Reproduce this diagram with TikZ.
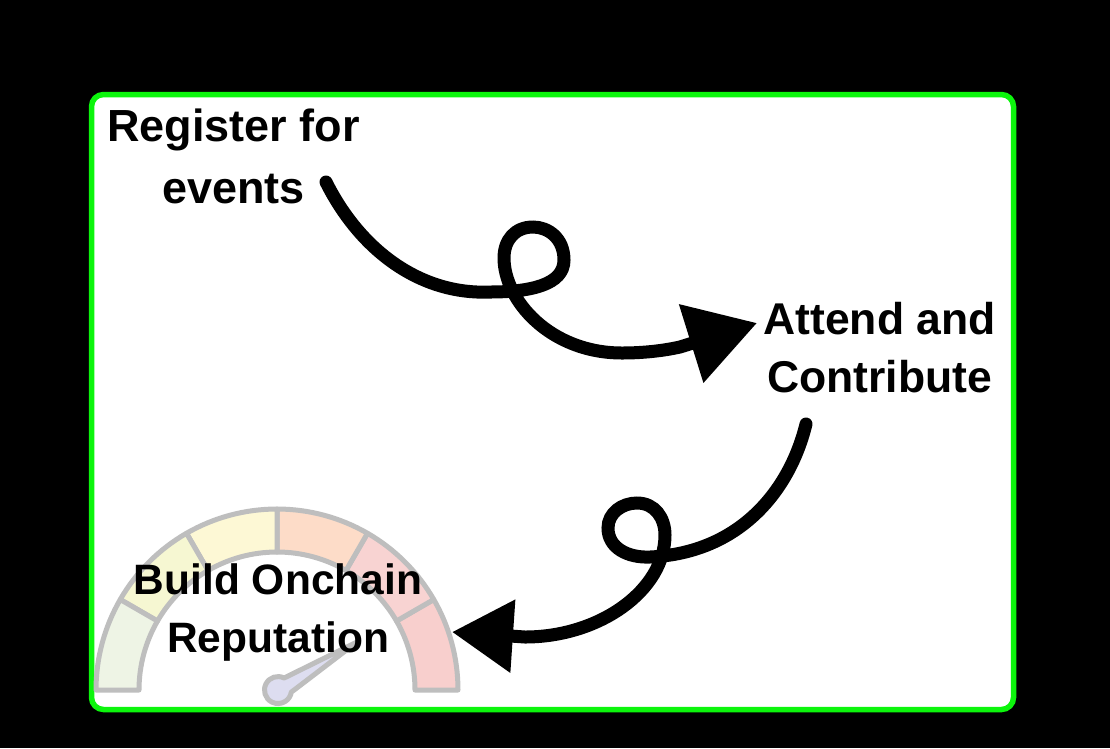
\documentclass[tikz,border=0pt]{standalone}
\usepackage{fontspec}
\setmainfont{Liberation Sans}
\usetikzlibrary{arrows.meta}
\definecolor{framegreen}{HTML}{0CF50C}
\definecolor{gaugeedge}{HTML}{BEBEBE}
\definecolor{bandA}{HTML}{F8CFCD}
\definecolor{bandB}{HTML}{F8D3D2}
\definecolor{bandC}{HTML}{FDDCC8}
\definecolor{bandD}{HTML}{FDF8D5}
\definecolor{bandE}{HTML}{F6F7D2}
\definecolor{bandF}{HTML}{EEF4E5}
\definecolor{needlefill}{HTML}{DDDDF0}
\tikzset{
  label text/.style={font=\fontsize{44.5}{58}\selectfont\bfseries, text=black, align=center, inner sep=0pt},
  loop arrow/.style={line width=13pt, line cap=round, draw=black},
  gauge band/.style={draw=gaugeedge, line width=5pt, line join=round},
}
% one 30-degree band of the gauge: start angle, end angle, fill colour
\newcommand{\gaugeband}[3]{%
  \filldraw[gauge band, fill=#3]
    ({277+181*cos(#1)},{690-181*sin(#1)})
    arc[start angle=-#1, end angle=-#2, radius=181]
    -- ({277+138*cos(#2)},{690-138*sin(#2)})
    arc[start angle=-#2, end angle=-#1, radius=138]
    -- cycle;}
\begin{document}
\begin{tikzpicture}[x=1pt,y=-1pt]
  \useasboundingbox (0,0) rectangle (1110,748);
  \fill[black] (0,0) rectangle (1110,748);
  \filldraw[fill=white, draw=framegreen, line width=5.5pt, rounded corners=12pt] (91.5,94.5) rectangle (1013.5,709.5);

  % gauge
  \gaugeband{0}{30}{bandA}
  \gaugeband{30}{60}{bandB}
  \gaugeband{60}{90}{bandC}
  \gaugeband{90}{120}{bandD}
  \gaugeband{120}{150}{bandE}
  \gaugeband{150}{180}{bandF}
  \filldraw[draw=gaugeedge, fill=needlefill, line width=5pt, line join=round]
    (357,642) -- (284.1,678) arc[start angle=-63, end angle=-351, radius=13.5] -- cycle;

  % labels
  \node[label text, font=\fontsize{45}{62}\selectfont\bfseries] (register) at (233.5,156.5) {Register for\\events};
  \node[label text] (attend) at (879.5,348) {Attend and\\Contribute};
  \node[label text, font=\fontsize{42.5}{58}\selectfont\bfseries] (build) at (278,612) {Build Onchain\\Reputation};

  \coordinate (registerOut) at (326,182);
  \coordinate (attendIn) at (757,323);
  \coordinate (attendOut) at (806,424);
  \coordinate (buildIn) at (452,632);

  % looping connectors
  \draw[loop arrow, -{Triangle[length=69pt,width=79pt]}] (registerOut)
    .. controls (360,250) and (420,295) .. (490,292)
    .. controls (530,292) and (564,285) .. (564,260)
    .. controls (564,238) and (548,227) .. (533,227)
    .. controls (515,227) and (504,240) .. (504,258)
    .. controls (504,300) and (550,353) .. (622,353)
    .. controls (642,353) and (662,351) .. (680,347)
    -- (attendIn);
  \draw[loop arrow, -{Triangle[length=61pt,width=70pt]}] (attendOut)
    .. controls (790,490) and (740,553) .. (650,557)
    .. controls (628,558) and (608,548) .. (608,528)
    .. controls (608,513) and (622,503) .. (637,503)
    .. controls (655,503) and (665,518) .. (665,535)
    .. controls (665,590) and (600,637) .. (525,637)
    -- (buildIn);
\end{tikzpicture}
\end{document}
